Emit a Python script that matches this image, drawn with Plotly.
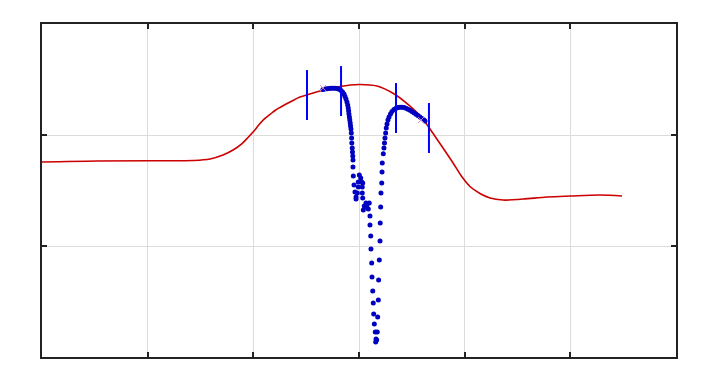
import plotly.graph_objects as go

# Red curve
red_x = [0.000, 0.520, 1.003, 1.429, 1.590, 1.713, 1.808, 1.893, 1.949, 2.006, 2.063, 2.110,
         2.158, 2.205, 2.252, 2.347, 2.441, 2.508, 2.631, 2.820, 3.000, 3.170, 3.341, 3.464,
         3.596, 3.672, 3.766, 3.890, 3.975, 4.050, 4.145, 4.240, 4.363, 4.552, 4.779, 4.997,
         5.281, 5.489]
red_y = [1.757, 1.766, 1.768, 1.770, 1.784, 1.820, 1.865, 1.923, 1.977, 2.036, 2.104, 2.149,
         2.185, 2.221, 2.248, 2.297, 2.342, 2.360, 2.396, 2.437, 2.455, 2.441, 2.365, 2.275,
         2.153, 2.054, 1.923, 1.748, 1.622, 1.536, 1.473, 1.432, 1.414, 1.423, 1.441, 1.450,
         1.459, 1.450]

# Blue dots
blue_x = [2.659, 2.678, 2.697, 2.716, 2.735, 2.754, 2.773, 2.792, 2.811, 2.830, 2.844, 2.858,
          2.867, 2.877, 2.886, 2.893, 2.898, 2.902, 2.905, 2.909, 2.913, 2.917, 2.920, 2.924,
          2.927, 2.930, 2.932, 2.936, 2.938, 2.941, 2.943, 2.943, 2.946,
          3.003, 3.016, 2.993, 3.025, 3.035, 2.953, 2.993, 3.031, 2.962, 2.984, 3.031, 2.972,
          2.972, 3.035, 3.066, 3.078, 3.097, 3.050, 3.073, 3.088, 3.041,
          3.104, 3.104, 3.111, 3.113, 3.120, 3.123, 3.130, 3.135, 3.139, 3.145, 3.154, 3.161,
          3.158, 3.167,
          3.173, 3.177, 3.183, 3.186, 3.192, 3.199, 3.201, 3.205, 3.208, 3.215, 3.218, 3.220,
          3.230,
          3.236, 3.241, 3.246, 3.252, 3.258, 3.265, 3.274, 3.284, 3.298, 3.312, 3.331, 3.350,
          3.369, 3.388, 3.407, 3.426, 3.445, 3.464, 3.483, 3.501, 3.520, 3.539, 3.558, 3.577,
          3.596, 3.615, 3.624]
blue_y = [2.410, 2.414, 2.417, 2.419, 2.421, 2.422, 2.421, 2.418, 2.412, 2.401, 2.387, 2.369,
          2.347, 2.324, 2.297, 2.270, 2.243, 2.216, 2.189, 2.162, 2.135, 2.108, 2.081, 2.054,
          2.018, 1.973, 1.928, 1.883, 1.847, 1.811, 1.775, 1.712, 1.631,
          1.640, 1.613, 1.577, 1.577, 1.568, 1.550, 1.532, 1.532, 1.486, 1.477, 1.477, 1.441,
          1.423, 1.432, 1.387, 1.378, 1.387, 1.360, 1.351, 1.333, 1.324,
          1.270, 1.189, 1.090, 0.973, 0.847, 0.721, 0.595, 0.486, 0.387, 0.297, 0.225, 0.162,
          0.135, 0.153,
          0.225, 0.360, 0.514, 0.694, 0.874, 1.045, 1.207, 1.351, 1.477, 1.568, 1.667, 1.748,
          1.830,
          1.883, 1.928, 1.973, 2.018, 2.063, 2.099, 2.135, 2.162, 2.189, 2.212, 2.230, 2.241,
          2.248, 2.250, 2.250, 2.247, 2.241, 2.232, 2.223, 2.212, 2.200, 2.188, 2.176, 2.162,
          2.149, 2.135, 2.126]

# Vertical bars
bar_x = [2.508, 2.830, 3.350, 3.662]
bar_y = [2.360, 2.396, 2.243, 2.063]
bar_half = [0.225, 0.225, 0.225, 0.225]

# Start/end marks
mark_x = [2.659, 3.587]
mark_y = [2.423, 2.135]

fig = go.Figure()
fig.add_trace(go.Scatter(x=red_x, y=red_y, mode="lines",
                         line=dict(color="#cc0000", width=1.6, shape="spline", smoothing=1.0),
                         hoverinfo="skip"))
fig.add_trace(go.Scatter(x=blue_x, y=blue_y, mode="markers",
                         marker=dict(color="#0000c0", size=5, line=dict(width=0)),
                         hoverinfo="skip"))
fig.add_trace(go.Scatter(x=bar_x, y=bar_y, mode="markers",
                         marker=dict(size=0.1, color="rgba(0,0,0,0)"),
                         error_y=dict(type="data", array=bar_half, symmetric=True,
                                      thickness=2, width=0, color="#0000ff"),
                         hoverinfo="skip"))
fig.add_trace(go.Scatter(x=mark_x, y=mark_y, mode="markers",
                         marker=dict(symbol="x-thin", size=6, color="rgba(225,140,190,0.9)",
                                     line=dict(width=1, color="rgba(225,140,190,0.9)")),
                         hoverinfo="skip"))

axis_common = dict(showgrid=True, gridcolor="#dcdcdc", gridwidth=1, zeroline=False,
                   showline=True, linecolor="#222222", linewidth=1.5, mirror="ticks",
                   ticks="inside", ticklen=5, tickwidth=1.5, tickcolor="#222222",
                   showticklabels=False, dtick=1)
fig.update_xaxes(range=[0, 6], tick0=0, **axis_common)
fig.update_yaxes(range=[0, 3], tick0=0, **axis_common)
fig.update_layout(width=720, height=384, showlegend=False,
                  margin=dict(l=42, r=44, t=24, b=27),
                  paper_bgcolor="white", plot_bgcolor="white")
fig.write_html("out.html")
